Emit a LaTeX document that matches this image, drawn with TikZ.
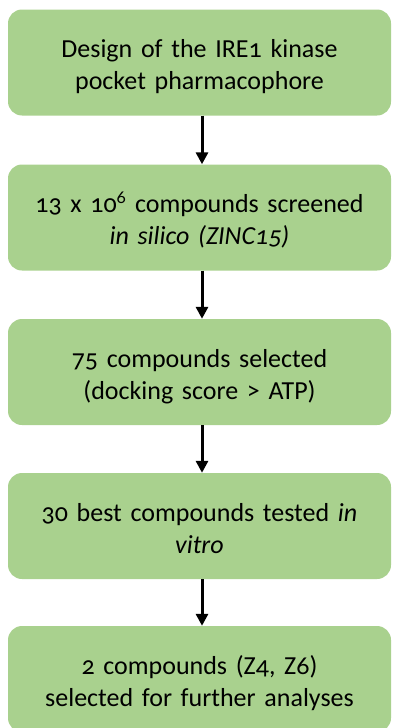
\documentclass[tikz,border=0pt]{standalone}
\usepackage{fontspec}
\setmainfont[Numbers=OldStyle,WordSpace=0.7]{Carlito}
\usetikzlibrary{arrows.meta}
\definecolor{boxgreen}{HTML}{A9D18E}
\newcommand\topstr{\rule{0pt}{28pt}}
\newcommand\botstr{\rule[-6pt]{0pt}{6pt}}
\tikzset{
  stepbox/.style={fill=boxgreen, rounded corners=14pt, minimum width=383pt, minimum height=106pt,
    text width=375pt, align=center, inner sep=0pt, font=\fontsize{26}{32}\selectfont},
  flowarrow/.style={line width=3pt, -{Triangle[width=12pt,length=12pt]}}
}
\begin{document}
\begin{tikzpicture}[x=1pt,y=-1pt]
\useasboundingbox (0,0) rectangle (392,728);
\node[stepbox] (b1) at (199.5,62.5) {\topstr Design of the IRE1 kinase\\pocket pharmacophore\botstr};
\node[stepbox] (b2) at (199.5,217.5) {\topstr 13 x 10\textsuperscript{6} compounds screened\\\textit{in silico (ZINC15)}\botstr};
\node[stepbox] (b3) at (199.5,372) {\topstr 75 compounds selected\\(docking score > ATP)\botstr};
\node[stepbox] (b4) at (199.5,526) {\topstr 30 best compounds tested \textit{in}\\\textit{vitro}\botstr};
\node[stepbox] (b5) at (199.5,679) {\topstr 2 compounds (Z4, Z6)\\selected for further analyses\botstr};
\coordinate (ax) at (202,0);
\draw[flowarrow] (b1.south -| ax) -- (b2.north -| ax);
\draw[flowarrow] (b2.south -| ax) -- (b3.north -| ax);
\draw[flowarrow] (b3.south -| ax) -- (b4.north -| ax);
\draw[flowarrow] (b4.south -| ax) -- (b5.north -| ax);
\end{tikzpicture}
\end{document}
